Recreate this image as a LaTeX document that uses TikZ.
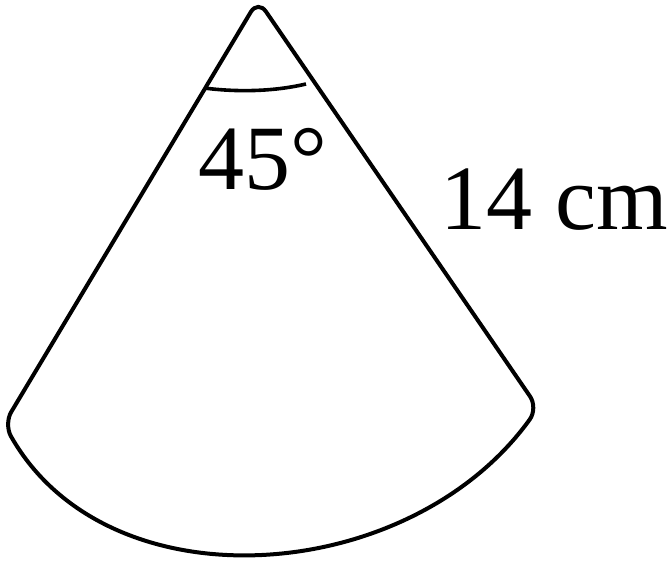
\documentclass[tikz,border=0pt]{standalone}
\usepackage{fontspec}
\setmainfont{Liberation Serif}
\begin{document}
\begin{tikzpicture}[x=1pt, y=-1pt,
  sector/.style={draw, line width=4pt, rounded corners=14pt},
  anglemark/.style={draw, line width=3.6pt},
  lbl/.style={font=\fontsize{92}{92}\selectfont, inner sep=0pt}]
\useasboundingbox (0,0) rectangle (672,561);
% corners of the sector
\coordinate (apex) at (258,0);
\coordinate (lcorner) at (4,424);
\coordinate (rcorner) at (538,408);

\draw[sector] (rcorner) .. controls (409.6,586.3) and (108.4,608.5) .. (lcorner)
  -- (apex) -- cycle;

% angle at the apex
\coordinate (m1) at (204,88);
\coordinate (m2) at (306,84);
\draw[anglemark] (m1) .. controls (235,92) and (272,92) .. (m2);

\node[lbl, anchor=base] (angle) at (263,190) {45°};
\node[lbl, anchor=base west] (side) at (440,230) {14 cm};
\end{tikzpicture}
\end{document}
